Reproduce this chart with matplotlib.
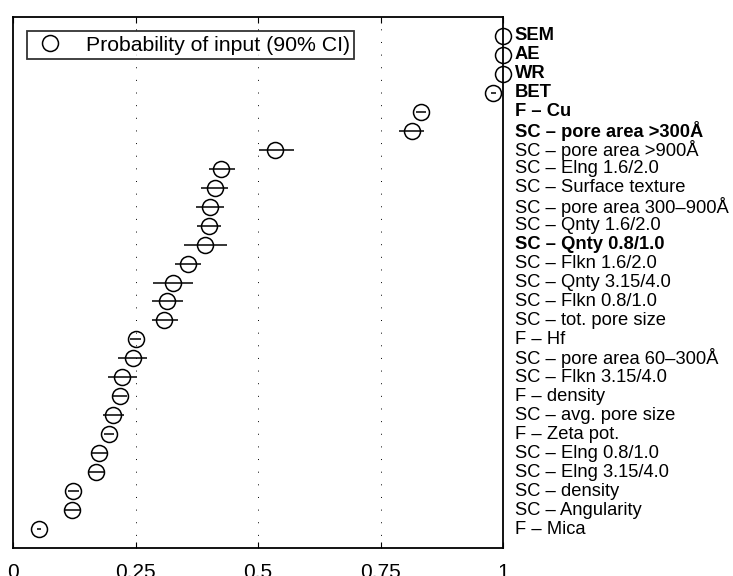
import numpy as np
import matplotlib
matplotlib.use('Agg')
import matplotlib.pyplot as plt
from matplotlib.transforms import blended_transform_factory

plt.rcParams['font.family'] = ['Liberation Sans', 'DejaVu Sans']

# inputs, top to bottom
labels = ['SEM', 'AE', 'WR', 'BET', 'F – Cu', 'SC – pore area >300Å',
          'SC – pore area >900Å', 'SC – Elng 1.6/2.0', 'SC – Surface texture',
          'SC – pore area 300–900Å', 'SC – Qnty 1.6/2.0', 'SC – Qnty 0.8/1.0',
          'SC – Flkn 1.6/2.0', 'SC – Qnty 3.15/4.0', 'SC – Flkn 0.8/1.0',
          'SC – tot. pore size', 'F – Hf', 'SC – pore area 60–300Å',
          'SC – Flkn 3.15/4.0', 'F – density', 'SC – avg. pore size',
          'F – Zeta pot.', 'SC – Elng 0.8/1.0', 'SC – Elng 3.15/4.0',
          'SC – density', 'SC – Angularity', 'F – Mica']
bold = ['SEM', 'AE', 'WR', 'BET', 'F – Cu', 'SC – pore area >300Å',
        'SC – Qnty 0.8/1.0']

prob = [1.0, 1.0, 1.0, 0.980, 0.832, 0.814, 0.535, 0.425, 0.412,
        0.402, 0.399, 0.391, 0.357, 0.327, 0.315, 0.309, 0.250, 0.244,
        0.223, 0.218, 0.205, 0.196, 0.176, 0.170, 0.123, 0.120, 0.053]
ci_low = [1.0, 1.0, 1.0, 0.975, 0.822, 0.788, 0.502, 0.400, 0.384,
          0.374, 0.375, 0.348, 0.331, 0.286, 0.283, 0.283, 0.239, 0.214,
          0.193, 0.205, 0.183, 0.185, 0.159, 0.154, 0.112, 0.105, 0.048]
ci_high = [1.0, 1.0, 1.0, 0.985, 0.842, 0.839, 0.573, 0.454, 0.439,
           0.431, 0.424, 0.436, 0.383, 0.367, 0.347, 0.337, 0.262, 0.273,
           0.254, 0.232, 0.227, 0.207, 0.192, 0.186, 0.134, 0.137, 0.058]

prob = np.array(prob)
ci_low = np.array(ci_low)
ci_high = np.array(ci_high)
pos = np.arange(len(labels))

fig = plt.figure(figsize=(7.33, 5.76), dpi=100)
ax = fig.add_axes([13/733, 1 - 548/576, 490/733, 531/576])

# confidence intervals
ax.hlines(pos, ci_low, ci_high, color='black', linewidth=1.1, zorder=3)
ax.plot(prob, pos, 'o', markersize=11.5, markerfacecolor='none',
        markeredgecolor='black', markeredgewidth=1.1, clip_on=False,
        zorder=4, label='Probability of input (90% CI)')

ax.set_xlim(0, 1)
ax.set_ylim(len(labels), -1)
ax.set_xticks([0, 0.25, 0.5, 0.75, 1])
ax.set_xticklabels(['0', '0.25', '0.5', '0.75', '1'], fontsize=15)
ax.set_yticks([])
ax.tick_params(axis='x', direction='in', length=4, width=0.8, pad=11,
               top=True)

# dotted vertical grid
for g in [0.25, 0.5, 0.75]:
    ax.axvline(g, color='black', linewidth=0.7, linestyle=(0, (1, 12)),
               zorder=1)

for s in ax.spines.values():
    s.set_linewidth(1.3)

tr = blended_transform_factory(ax.transAxes, ax.transData)
for i, lab in enumerate(labels):
    ax.text(1.024, i, lab, transform=tr, va='center', ha='left',
            fontsize=13.2, fontweight='bold' if lab in bold else 'normal',
            clip_on=False)

leg = ax.legend(loc='upper left', bbox_to_anchor=(0.029, 0.973),
                fontsize=15.3, frameon=True, fancybox=False,
                edgecolor='black', borderpad=0.2, handletextpad=0.85,
                borderaxespad=0, handlelength=1.7)
leg.get_frame().set_linewidth(1.3)

fig.savefig('out.png', dpi=100)
